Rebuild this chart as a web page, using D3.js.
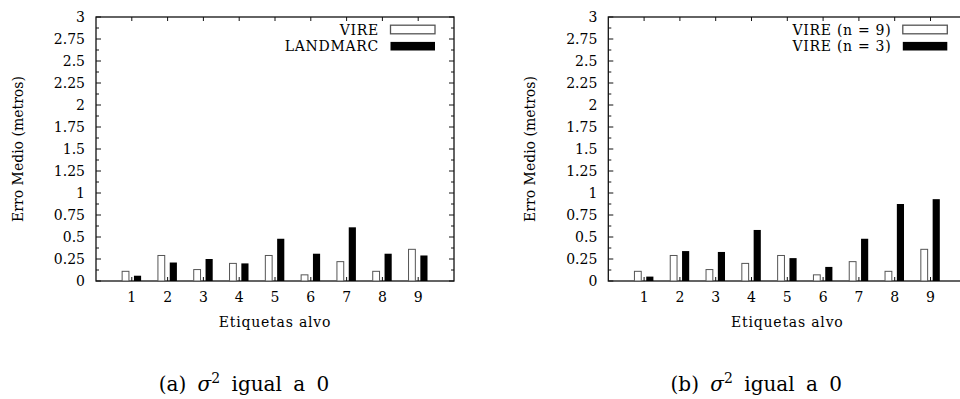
<!DOCTYPE html>
<html>
<head>
<meta charset="utf-8">
<script src="https://cdn.jsdelivr.net/npm/d3@7"></script>
<style>
  body { margin: 0; background: #fff; }
  svg text { font-family: "DejaVu Serif", serif; fill: #000; }
</style>
</head>
<body>
<svg id="canvas" width="960" height="399"></svg>
<script>
// target tags on the x axis
const tags = [1, 2, 3, 4, 5, 6, 7, 8, 9];
const yTicks = [0, 0.25, 0.5, 0.75, 1, 1.25, 1.5, 1.75, 2, 2.25, 2.5, 2.75, 3];

// panel (a)
const vireA = [0.11, 0.29, 0.13, 0.20, 0.29, 0.07, 0.22, 0.11, 0.36];
const landmarcA = [0.06, 0.21, 0.25, 0.20, 0.48, 0.31, 0.61, 0.31, 0.29];
const namesA = ['VIRE', 'LANDMARC'];

// panel (b)
const vireN9 = [0.11, 0.29, 0.13, 0.20, 0.29, 0.07, 0.22, 0.11, 0.36];
const vireN3 = [0.05, 0.34, 0.33, 0.58, 0.26, 0.16, 0.48, 0.875, 0.93];
const namesB = ['VIRE (n = 9)', 'VIRE (n = 3)'];

let canvas = d3.select('#canvas');

let drawPanel = (left, white, black, names, letter) => {
    let x = d3.scaleLinear().domain([0, 10]).range([left, left + 358]);
    let y = d3.scaleLinear().domain([0, 3]).range([281, 17]);
    let g = canvas.append('g');

    // frame
    g.append('rect')
        .attr('x', x(0)).attr('y', y(3))
        .attr('width', x(10) - x(0)).attr('height', y(0) - y(3))
        .attr('fill', 'none').attr('stroke', '#111').attr('stroke-width', 1.3);

    // y ticks (major + minor), mirrored on the right
    let minor = d3.range(0.125, 3, 0.25);
    g.selectAll('line.ymaj').data(yTicks).enter().append('line')
        .attr('x1', x(0)).attr('x2', x(0) + 5)
        .attr('y1', d => y(d)).attr('y2', d => y(d))
        .attr('stroke', '#111');
    g.selectAll('line.ymin').data(minor).enter().append('line')
        .attr('x1', x(0)).attr('x2', x(0) + 3)
        .attr('y1', d => y(d)).attr('y2', d => y(d))
        .attr('stroke', '#111');
    g.selectAll('line.ymaj2').data(yTicks).enter().append('line')
        .attr('x1', x(10)).attr('x2', x(10) - 5)
        .attr('y1', d => y(d)).attr('y2', d => y(d))
        .attr('stroke', '#111');
    g.selectAll('line.ymin2').data(minor).enter().append('line')
        .attr('x1', x(10)).attr('x2', x(10) - 3)
        .attr('y1', d => y(d)).attr('y2', d => y(d))
        .attr('stroke', '#111');

    g.selectAll('text.ylab').data(yTicks).enter().append('text')
        .attr('x', x(0) - 11)
        .attr('y', d => y(d))
        .attr('dy', '0.36em')
        .attr('text-anchor', 'end')
        .style('font-size', '14px')
        .text(d => d);

    // x ticks bottom and top
    g.selectAll('line.xb').data(tags).enter().append('line')
        .attr('x1', d => x(d)).attr('x2', d => x(d))
        .attr('y1', y(0)).attr('y2', y(0) - 4)
        .attr('stroke', '#111');
    g.selectAll('line.xt').data(tags).enter().append('line')
        .attr('x1', d => x(d)).attr('x2', d => x(d))
        .attr('y1', y(3)).attr('y2', y(3) + 4)
        .attr('stroke', '#111');
    g.selectAll('text.xlab').data(tags).enter().append('text')
        .attr('x', d => x(d))
        .attr('y', 302)
        .attr('text-anchor', 'middle')
        .style('font-size', '14px')
        .text(d => d);

    // bars
    g.selectAll('rect.w').data(white).enter().append('rect')
        .attr('x', (d, i) => x(tags[i] - 0.27))
        .attr('y', d => y(d))
        .attr('width', x(0.19) - x(0))
        .attr('height', d => y(0) - y(d))
        .attr('fill', '#fff').attr('stroke', '#555').attr('stroke-width', 1);
    g.selectAll('rect.b').data(black).enter().append('rect')
        .attr('x', (d, i) => x(tags[i] + 0.06))
        .attr('y', d => y(d))
        .attr('width', x(0.2) - x(0))
        .attr('height', d => y(0) - y(d))
        .attr('fill', '#000');

    // legend
    let legendRight = left + 283;
    names.forEach((name, i) => {
        let cy = 29.5 + i * 16.7;
        g.append('text')
            .attr('x', legendRight)
            .attr('y', cy)
            .attr('dy', '0.36em')
            .attr('text-anchor', 'end')
            .style('font-size', '14px')
            .style('letter-spacing', '0.7px')
            .text(name);
        g.append('rect')
            .attr('x', legendRight + 11.5)
            .attr('y', cy - 4.3)
            .attr('width', 44.5).attr('height', 8.6)
            .attr('fill', i === 0 ? '#fff' : '#000')
            .attr('stroke', i === 0 ? '#555' : 'none')
            .attr('stroke-width', 1.3);
    });

    // axis titles
    g.append('text')
        .attr('x', x(5)).attr('y', 327)
        .attr('text-anchor', 'middle')
        .style('font-size', '14px')
        .style('letter-spacing', '0.8px')
        .text('Etiquetas alvo');
    g.append('text')
        .attr('transform', `translate(${left - 78},${y(1.5)}) rotate(-90)`)
        .attr('dy', '0.36em')
        .attr('text-anchor', 'middle')
        .style('font-size', '14px')
        .text('Erro Medio (metros)');

    // caption
    let cap = g.append('text')
        .attr('x', x(5) - 31).attr('y', 391)
        .attr('text-anchor', 'middle')
        .style('font-size', '20px')
        .style('word-spacing', '5px');
    cap.append('tspan').text(`(${letter}) `);
    cap.append('tspan').style('font-style', 'italic').text('σ');
    cap.append('tspan').attr('dy', -8).style('font-size', '14px').text('2');
    cap.append('tspan').attr('dy', 8).text(' igual a 0');
};

drawPanel(96, vireA, landmarcA, namesA, 'a');
drawPanel(608.3, vireN9, vireN3, namesB, 'b');
</script>
</body>
</html>
